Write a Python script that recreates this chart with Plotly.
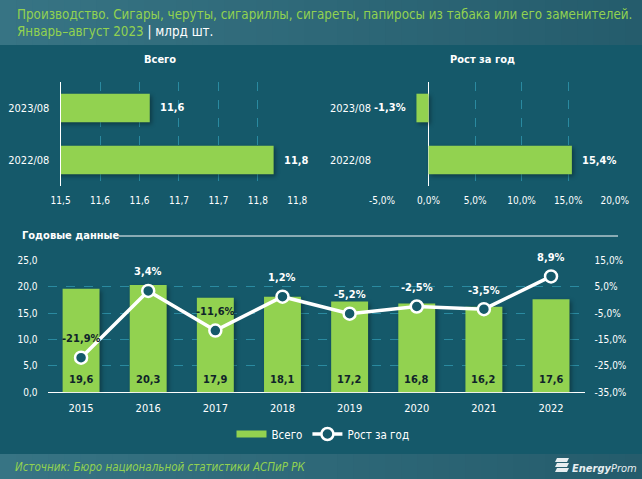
import plotly.graph_objects as go

W, H = 642, 479

periods = ["2023/08", "2022/08"]
total_values = [11.613, 11.77]
total_labels = ["11,6", "11,8"]
total_ticks = [11.5, 11.55, 11.6, 11.65, 11.7, 11.75, 11.8]
total_ticktext = ["11,5", "11,6", "11,6", "11,7", "11,7", "11,8", "11,8"]
growth_values = [-1.3, 15.4]
growth_labels = ["-1,3%", "15,4%"]
growth_ticks = [-5, 0, 5, 10, 15, 20]
growth_ticktext = ["-5,0%", "0,0%", "5,0%", "10,0%", "15,0%", "20,0%"]

years = ["2015", "2016", "2017", "2018", "2019", "2020", "2021", "2022"]
year_totals = [19.6, 20.3, 17.9, 18.1, 17.2, 16.8, 16.2, 17.6]
year_total_labels = ["19,6", "20,3", "17,9", "18,1", "17,2", "16,8", "16,2", "17,6"]
year_growth = [-21.9, 3.4, -11.6, 1.2, -5.2, -2.5, -3.5, 8.9]
year_growth_labels = ["-21,9%", "3,4%", "-11,6%", "1,2%", "-5,2%", "-2,5%", "-3,5%", "8,9%"]
year_label_colors = ["#10242a", "white", "#10242a", "white", "white", "white", "white", "white"]
left_ticks = [0, 5, 10, 15, 20, 25]
left_ticktext = ["0,0", "5,0", "10,0", "15,0", "20,0", "25,0"]
right_ticks = [-35, -25, -15, -5, 5, 15]
right_ticktext = ["-35,0%", "-25,0%", "-15,0%", "-5,0%", "5,0%", "15,0%"]

BG = "#15596a"
GREEN = "#92d250"
GRID = "#2a8aa0"
FONT = "DejaVu Sans Condensed"


def px_x(x):
    return x / W


def px_y(y):
    return 1 - y / H


def band(y0, y1, left, right, steps=40):
    # plotly has no gradient fill, so the light bands are thin strips
    out = []
    for i in range(steps):
        t = i / (steps - 1)
        c = [round(a + (b - a) * t) for a, b in zip(left, right)]
        out.append(dict(type="rect", xref="paper", yref="paper", layer="below", line_width=0,
                        x0=i / steps, x1=min(1, (i + 1.5) / steps), y0=px_y(y1), y1=px_y(y0),
                        fillcolor="rgb(%d,%d,%d)" % tuple(c)))
    return out


def note(text, x, y, size=11, color="white", anchor="center", bold=False, italic=False):
    if bold:
        text = "<b>" + text + "</b>"
    if italic:
        text = "<i>" + text + "</i>"
    return dict(text=text, x=px_x(x), y=px_y(y), xref="paper", yref="paper", showarrow=False,
                xanchor=anchor, yanchor="middle", font=dict(size=size, color=color, family=FONT))


def data_label(text, x, y, xref, yref, color="white", xanchor="center", xshift=0, yshift=0, size=11):
    return dict(text=text, x=x, y=y, xref=xref, yref=yref, showarrow=False, xanchor=xanchor,
                yanchor="middle", xshift=xshift, yshift=yshift,
                font=dict(size=size, color=color, family=FONT, weight=600))


fig = go.Figure()

fig.add_trace(go.Bar(y=periods, x=total_values, orientation="h", marker_color=GREEN, marker_line_width=0,
                     showlegend=False, xaxis="x", yaxis="y"))
fig.add_trace(go.Bar(y=periods, x=growth_values, orientation="h", marker_color=GREEN, marker_line_width=0,
                     showlegend=False, xaxis="x2", yaxis="y2"))
fig.add_trace(go.Bar(x=years, y=year_totals, marker_color=GREEN, marker_line_width=0,
                     showlegend=False, xaxis="x3", yaxis="y3"))
# empty line trace: gives the legend the wide flat swatch
fig.add_trace(go.Scatter(x=[None], y=[None], name="Всего", mode="lines", line=dict(color=GREEN, width=7),
                         xaxis="x3", yaxis="y3"))
fig.add_trace(go.Scatter(x=years, y=year_growth, name="Рост за год", mode="lines+markers",
                         line=dict(color="white", width=3.5),
                         marker=dict(size=12, color=BG, line=dict(color="white", width=2.5)),
                         cliponaxis=False, xaxis="x3", yaxis="y4"))

shapes = band(0, 45, (55, 116, 132), (37, 92, 108)) + band(454, 479, (55, 116, 132), (37, 92, 108))
shapes.append(dict(type="line", xref="paper", yref="paper", x0=px_x(119), x1=px_x(618),
                   y0=px_y(236), y1=px_y(236), line=dict(color="white", width=1)))
# logo mark
for top in (458, 463, 468):
    shapes.append(dict(type="path", xref="paper", yref="paper", line_width=0, fillcolor="#e8eef0",
                       path="M %f %f L %f %f L %f %f L %f %f Z" % (
                           px_x(555), px_y(top + 4), px_x(557), px_y(top),
                           px_x(569), px_y(top), px_x(567), px_y(top + 4))))

annotations = [
    note("Производство. Сигары, черуты, сигариллы, сигареты, папиросы из табака или его заменителей.",
         15, 15, size=13.3, color=GREEN, anchor="left"),
    note("Январь–август 2023 <span style='color:white'>| млрд шт.</span>", 15, 32, size=13.3, color=GREEN, anchor="left"),
    note("Всего", 160, 59, bold=True),
    note("Рост за год", 482, 59, bold=True),
    note("Годовые данные", 20, 235, bold=True, anchor="left"),
    note("Источник: Бюро национальной статистики АСПиР РК", 13, 467, size=11.5, color=GREEN, anchor="left", italic=True),
    note("<b><i>Energy</i></b><i>Prom</i>", 570, 468, size=11, color="#e8eef0", anchor="left"),
]
for period, value, label in zip(periods, total_values, total_labels):
    annotations.append(data_label(label, value, period, "x", "y", xanchor="left", xshift=8))
for period, value, label in zip(periods, growth_values, growth_labels):
    annotations.append(data_label(label, value, period, "x2", "y2",
                                  xanchor="left" if value > 0 else "right", xshift=8 if value > 0 else -8))
# category axis: annotations take the serial number of the year
for i, label in enumerate(year_total_labels):
    annotations.append(data_label(label, i, 0, "x3", "y3", color="#10242a", yshift=13))
for i, (value, label, color) in enumerate(zip(year_growth, year_growth_labels, year_label_colors)):
    annotations.append(data_label(label, i, value, "x3", "y4", color=color, yshift=19))

tick_font = dict(color="white", size=10, family=FONT)
cat_font = dict(color="white", size=11, family=FONT)
grid = dict(showgrid=True, gridcolor=GRID, griddash="dash", gridwidth=1)

fig.update_layout(
    width=W, height=H, margin=dict(l=0, r=0, t=0, b=0, autoexpand=False), autosize=False,
    paper_bgcolor=BG, plot_bgcolor="rgba(0,0,0,0)", barmode="overlay", bargap=0.45,
    shapes=shapes, annotations=annotations,
    font=dict(family=FONT, color="white", size=11),
    legend=dict(orientation="h", x=px_x(323), xanchor="center", y=px_y(434), yanchor="middle",
                font=dict(color="white", size=11.5, family=FONT), bgcolor="rgba(0,0,0,0)"),
    xaxis=dict(domain=[px_x(60.6), px_x(297.3)], range=[11.5, 11.8], tickvals=total_ticks,
               ticktext=total_ticktext, tickfont=tick_font, anchor="y", zeroline=False,
               ticklabelstandoff=7, **grid),
    yaxis=dict(domain=[px_y(186), px_y(82)], autorange="reversed", showline=True, linecolor="white", linewidth=1,
               tickfont=cat_font, ticklabelstandoff=8, anchor="x", showgrid=False),
    xaxis2=dict(domain=[px_x(382), px_x(614.7)], range=[-5, 20], tickvals=growth_ticks, ticktext=growth_ticktext,
                tickfont=tick_font, anchor="y2", zeroline=True, zerolinecolor="white", zerolinewidth=1,
                ticklabelstandoff=7, **grid),
    yaxis2=dict(domain=[px_y(186), px_y(82)], autorange="reversed", tickfont=cat_font, ticklabelstandoff=10,
                anchor="x2", showgrid=False, zeroline=False),
    xaxis3=dict(domain=[px_x(47.5), px_x(584.6)], type="category", categoryorder="array", categoryarray=years,
                range=[-0.5, 7.5], tickfont=cat_font, anchor="y3", showgrid=False, ticklabelstandoff=8),
    yaxis3=dict(domain=[px_y(392.3), px_y(260.3)], range=[0, 25], tickvals=left_ticks, ticktext=left_ticktext,
                tickfont=tick_font, anchor="x3", ticklabelstandoff=9, showline=False, zeroline=True,
                zerolinecolor="white", zerolinewidth=1, **grid),
    yaxis4=dict(domain=[px_y(392.3), px_y(260.3)], range=[-35, 15], tickvals=right_ticks, ticktext=right_ticktext,
                tickfont=tick_font, overlaying="y3", side="right", anchor="x3", ticklabelstandoff=9,
                showgrid=False, zeroline=False),
)

page_js = """
document.body.style.margin = '0';
var s = document.createElement('style');
s.innerHTML = '.bars .point path {filter: drop-shadow(2px 2px 2px rgba(0,0,0,.35));}';
document.head.appendChild(s);
"""
fig.write_html("out.html", post_script=page_js, config=dict(displayModeBar=False))
